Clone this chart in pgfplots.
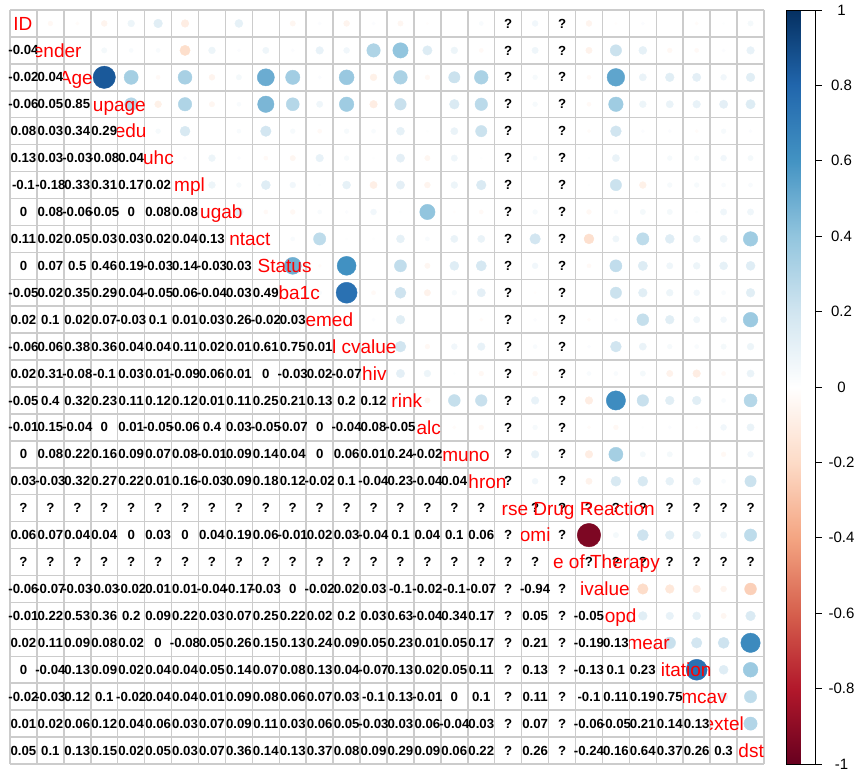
\documentclass[border=0pt]{standalone}
\usepackage{pgfplots}
\pgfplotsset{compat=1.18}
\usepackage{pgfplotstable}
\usepackage{fontspec}
\setmainfont{Liberation Sans}
\definecolor{labred}{RGB}{255,0,0}
\definecolor{gridgray}{RGB}{204,204,204}
\newcommand{\labfont}{\fontsize{19}{19}\selectfont}
\newcommand{\numfont}{\bfseries\fontsize{13.2}{13.2}\selectfont}
\newcommand{\cbfont}{\fontsize{15}{15}\selectfont}

% lower triangle: r = row, c = column, v = correlation
\pgfplotstableread[row sep=\\]{
r c v \\
2 1 -0.04 \\
3 1 -0.02 \\ 3 2 0.04 \\
4 1 -0.06 \\ 4 2 0.05 \\ 4 3 0.85 \\
5 1 0.08 \\ 5 2 0.03 \\ 5 3 0.34 \\ 5 4 0.29 \\
6 1 0.13 \\ 6 2 0.03 \\ 6 3 -0.03 \\ 6 4 -0.08 \\ 6 5 0.04 \\
7 1 -0.1 \\ 7 2 -0.18 \\ 7 3 0.33 \\ 7 4 0.31 \\ 7 5 0.17 \\ 7 6 0.02 \\
8 1 0 \\ 8 2 0.08 \\ 8 3 -0.06 \\ 8 4 -0.05 \\ 8 5 0 \\ 8 6 0.08 \\ 8 7 0.08 \\
9 1 0.11 \\ 9 2 0.02 \\ 9 3 0.05 \\ 9 4 0.03 \\ 9 5 0.03 \\ 9 6 0.02 \\ 9 7 0.04 \\ 9 8 0.13 \\
10 1 0 \\ 10 2 0.07 \\ 10 3 0.5 \\ 10 4 0.46 \\ 10 5 0.19 \\ 10 6 -0.03 \\ 10 7 0.14 \\ 10 8 -0.03 \\ 10 9 0.03 \\
11 1 -0.05 \\ 11 2 0.02 \\ 11 3 0.35 \\ 11 4 0.29 \\ 11 5 0.04 \\ 11 6 -0.05 \\ 11 7 0.06 \\ 11 8 -0.04 \\ 11 9 0.03 \\ 11 10 0.49 \\
12 1 0.02 \\ 12 2 0.1 \\ 12 3 0.02 \\ 12 4 0.07 \\ 12 5 -0.03 \\ 12 6 0.1 \\ 12 7 0.01 \\ 12 8 0.03 \\ 12 9 0.26 \\ 12 10 -0.02 \\ 12 11 0.03 \\
13 1 -0.06 \\ 13 2 0.06 \\ 13 3 0.38 \\ 13 4 0.36 \\ 13 5 0.04 \\ 13 6 0.04 \\ 13 7 0.11 \\ 13 8 0.02 \\ 13 9 0.01 \\ 13 10 0.61 \\ 13 11 0.75 \\ 13 12 0.01 \\
14 1 0.02 \\ 14 2 0.31 \\ 14 3 -0.08 \\ 14 4 -0.1 \\ 14 5 0.03 \\ 14 6 0.01 \\ 14 7 -0.09 \\ 14 8 0.06 \\ 14 9 0.01 \\ 14 10 0 \\ 14 11 -0.03 \\ 14 12 0.02 \\ 14 13 -0.07 \\
15 1 -0.05 \\ 15 2 0.4 \\ 15 3 0.32 \\ 15 4 0.23 \\ 15 5 0.11 \\ 15 6 0.12 \\ 15 7 0.12 \\ 15 8 0.01 \\ 15 9 0.11 \\ 15 10 0.25 \\ 15 11 0.21 \\ 15 12 0.13 \\ 15 13 0.2 \\ 15 14 0.12 \\
16 1 -0.01 \\ 16 2 0.15 \\ 16 3 -0.04 \\ 16 4 0 \\ 16 5 0.01 \\ 16 6 -0.05 \\ 16 7 -0.06 \\ 16 8 0.4 \\ 16 9 0.03 \\ 16 10 -0.05 \\ 16 11 -0.07 \\ 16 12 0 \\ 16 13 -0.04 \\ 16 14 0.08 \\ 16 15 -0.05 \\
17 1 0 \\ 17 2 0.08 \\ 17 3 0.22 \\ 17 4 0.16 \\ 17 5 0.09 \\ 17 6 0.07 \\ 17 7 0.08 \\ 17 8 -0.01 \\ 17 9 0.09 \\ 17 10 0.14 \\ 17 11 0.04 \\ 17 12 0 \\ 17 13 0.06 \\ 17 14 0.01 \\ 17 15 0.24 \\ 17 16 -0.02 \\
18 1 0.03 \\ 18 2 -0.03 \\ 18 3 0.32 \\ 18 4 0.27 \\ 18 5 0.22 \\ 18 6 0.01 \\ 18 7 0.16 \\ 18 8 -0.03 \\ 18 9 0.09 \\ 18 10 0.18 \\ 18 11 0.12 \\ 18 12 -0.02 \\ 18 13 0.1 \\ 18 14 -0.04 \\ 18 15 0.23 \\ 18 16 -0.04 \\ 18 17 0.04 \\
20 1 0.06 \\ 20 2 0.07 \\ 20 3 0.04 \\ 20 4 0.04 \\ 20 5 0 \\ 20 6 0.03 \\ 20 7 0 \\ 20 8 0.04 \\ 20 9 0.19 \\ 20 10 0.06 \\ 20 11 -0.01 \\ 20 12 0.02 \\ 20 13 0.03 \\ 20 14 -0.04 \\ 20 15 0.1 \\ 20 16 0.04 \\ 20 17 0.1 \\ 20 18 0.06 \\
22 1 -0.06 \\ 22 2 -0.07 \\ 22 3 -0.03 \\ 22 4 -0.03 \\ 22 5 -0.02 \\ 22 6 0.01 \\ 22 7 0.01 \\ 22 8 -0.04 \\ 22 9 -0.17 \\ 22 10 -0.03 \\ 22 11 0 \\ 22 12 -0.02 \\ 22 13 0.02 \\ 22 14 0.03 \\ 22 15 -0.1 \\ 22 16 -0.02 \\ 22 17 -0.1 \\ 22 18 -0.07 \\ 22 20 -0.94 \\
23 1 -0.01 \\ 23 2 0.22 \\ 23 3 0.53 \\ 23 4 0.36 \\ 23 5 0.2 \\ 23 6 0.09 \\ 23 7 0.22 \\ 23 8 0.03 \\ 23 9 0.07 \\ 23 10 0.25 \\ 23 11 0.22 \\ 23 12 0.02 \\ 23 13 0.2 \\ 23 14 0.03 \\ 23 15 0.63 \\ 23 16 -0.04 \\ 23 17 0.34 \\ 23 18 0.17 \\ 23 20 0.05 \\ 23 22 -0.05 \\
24 1 0.02 \\ 24 2 0.11 \\ 24 3 0.09 \\ 24 4 0.08 \\ 24 5 0.02 \\ 24 6 0 \\ 24 7 -0.08 \\ 24 8 0.05 \\ 24 9 0.26 \\ 24 10 0.15 \\ 24 11 0.13 \\ 24 12 0.24 \\ 24 13 0.09 \\ 24 14 0.05 \\ 24 15 0.23 \\ 24 16 0.01 \\ 24 17 0.05 \\ 24 18 0.17 \\ 24 20 0.21 \\ 24 22 -0.19 \\ 24 23 0.13 \\
25 1 0 \\ 25 2 -0.04 \\ 25 3 0.13 \\ 25 4 0.09 \\ 25 5 0.02 \\ 25 6 0.04 \\ 25 7 0.04 \\ 25 8 0.05 \\ 25 9 0.14 \\ 25 10 0.07 \\ 25 11 0.08 \\ 25 12 0.13 \\ 25 13 0.04 \\ 25 14 -0.07 \\ 25 15 0.13 \\ 25 16 0.02 \\ 25 17 0.05 \\ 25 18 0.11 \\ 25 20 0.13 \\ 25 22 -0.13 \\ 25 23 0.1 \\ 25 24 0.23 \\
26 1 -0.02 \\ 26 2 -0.03 \\ 26 3 0.12 \\ 26 4 0.1 \\ 26 5 -0.02 \\ 26 6 0.04 \\ 26 7 0.04 \\ 26 8 0.01 \\ 26 9 0.09 \\ 26 10 0.08 \\ 26 11 0.06 \\ 26 12 0.07 \\ 26 13 0.03 \\ 26 14 -0.1 \\ 26 15 0.13 \\ 26 16 -0.01 \\ 26 17 0 \\ 26 18 0.1 \\ 26 20 0.11 \\ 26 22 -0.1 \\ 26 23 0.11 \\ 26 24 0.19 \\ 26 25 0.75 \\
27 1 0.01 \\ 27 2 0.02 \\ 27 3 0.06 \\ 27 4 0.12 \\ 27 5 0.04 \\ 27 6 0.06 \\ 27 7 0.03 \\ 27 8 0.07 \\ 27 9 0.09 \\ 27 10 0.11 \\ 27 11 0.03 \\ 27 12 0.06 \\ 27 13 0.05 \\ 27 14 -0.03 \\ 27 15 0.03 \\ 27 16 0.06 \\ 27 17 -0.04 \\ 27 18 0.03 \\ 27 20 0.07 \\ 27 22 -0.06 \\ 27 23 -0.05 \\ 27 24 0.21 \\ 27 25 0.14 \\ 27 26 0.13 \\
28 1 0.05 \\ 28 2 0.1 \\ 28 3 0.13 \\ 28 4 0.15 \\ 28 5 0.02 \\ 28 6 0.05 \\ 28 7 0.03 \\ 28 8 0.07 \\ 28 9 0.36 \\ 28 10 0.14 \\ 28 11 0.13 \\ 28 12 0.37 \\ 28 13 0.08 \\ 28 14 0.09 \\ 28 15 0.29 \\ 28 16 0.09 \\ 28 17 0.06 \\ 28 18 0.22 \\ 28 20 0.26 \\ 28 22 -0.24 \\ 28 23 0.16 \\ 28 24 0.64 \\ 28 25 0.37 \\ 28 26 0.26 \\ 28 27 0.3 \\
}\lowertab

% cells with missing correlation (x = column, y = row)
\pgfplotstableread[row sep=\\]{
x y \\
1 19 \\ 2 19 \\ 3 19 \\ 4 19 \\ 5 19 \\ 6 19 \\ 7 19 \\ 8 19 \\ 9 19 \\ 10 19 \\ 11 19 \\ 12 19 \\ 13 19 \\ 14 19 \\ 15 19 \\ 16 19 \\ 17 19 \\ 18 19 \\
1 21 \\ 2 21 \\ 3 21 \\ 4 21 \\ 5 21 \\ 6 21 \\ 7 21 \\ 8 21 \\ 9 21 \\ 10 21 \\ 11 21 \\ 12 21 \\ 13 21 \\ 14 21 \\ 15 21 \\ 16 21 \\ 17 21 \\ 18 21 \\ 19 21 \\ 20 21 \\
19 20 \\ 19 22 \\ 19 23 \\ 19 24 \\ 19 25 \\ 19 26 \\ 19 27 \\ 19 28 \\
21 22 \\ 21 23 \\ 21 24 \\ 21 25 \\ 21 26 \\ 21 27 \\ 21 28 \\
19 1 \\ 19 2 \\ 19 3 \\ 19 4 \\ 19 5 \\ 19 6 \\ 19 7 \\ 19 8 \\ 19 9 \\ 19 10 \\ 19 11 \\ 19 12 \\ 19 13 \\ 19 14 \\ 19 15 \\ 19 16 \\ 19 17 \\ 19 18 \\
21 1 \\ 21 2 \\ 21 3 \\ 21 4 \\ 21 5 \\ 21 6 \\ 21 7 \\ 21 8 \\ 21 9 \\ 21 10 \\ 21 11 \\ 21 12 \\ 21 13 \\ 21 14 \\ 21 15 \\ 21 16 \\ 21 17 \\ 21 18 \\ 21 19 \\ 21 20 \\
20 19 \\ 22 19 \\ 23 19 \\ 24 19 \\ 25 19 \\ 26 19 \\ 27 19 \\ 28 19 \\
22 21 \\ 23 21 \\ 24 21 \\ 25 21 \\ 26 21 \\ 27 21 \\ 28 21 \\
}\natab

\begin{document}
\begin{tikzpicture}
\begin{axis}[
  name=main,
  scale only axis, width=754pt, height=754pt,
  xmin=0.5, xmax=28.5, ymin=0.5, ymax=28.5, y dir=reverse,
  clip=false,
  axis line style={draw=none},
  xtick={0.5,1.5,...,28.5}, ytick={0.5,1.5,...,28.5},
  xticklabels={}, yticklabels={},
  major tick length=0pt, tick style={draw=none},
  grid=major, major grid style={draw=gridgray, line width=1.5pt},
  colormap={rdbu}{rgb255=(103,0,31) rgb255=(178,24,43) rgb255=(214,96,77) rgb255=(244,165,130) rgb255=(253,219,199) rgb255=(255,255,255) rgb255=(209,229,240) rgb255=(146,197,222) rgb255=(67,147,195) rgb255=(33,102,172) rgb255=(5,48,97)},
  point meta min=-1, point meta max=1,
  colorbar,
  colorbar style={
    at={(parent axis.north east)}, anchor=north west, xshift=14pt,
    width=29pt,
    grid=none,
    xtick=\empty,
    ytick={-1,-0.8,-0.6,-0.4,-0.2,0,0.2,0.4,0.6,0.8,1},
    yticklabels={-1,-0.8,-0.6,-0.4,-0.2,0,0.2,0.4,0.6,0.8,1},
    ytick pos=right,
    tick align=outside,
    major tick length=6pt,
    axis line style={draw=black, line width=0.6pt},
    tick style={draw=black, line width=0.6pt},
    yticklabel style={font=\cbfont, anchor=center, xshift=20pt},
  },
]
\coordinate (O) at (axis cs:0.5,0.5);
% circles in the upper triangle (symmetric values)
\addplot[scatter, only marks, mark=*,
  scatter/use mapped color={draw=mapped color, fill=mapped color},
  point meta=\thisrow{v},
  visualization depends on={12.12*sqrt(abs(\thisrow{v})) \as \rad},
  scatter/@pre marker code/.append style={/tikz/mark size=\rad, /tikz/draw opacity=0},
] table[x=r, y=c] {\lowertab};
% numbers in the lower triangle
\addplot[draw=none, mark=none, nodes near coords, point meta=explicit symbolic,
  every node near coord/.append style={anchor=center, inner sep=0pt, font=\numfont, text=black},
] table[x=c, y=r, meta=v] {\lowertab};
% missing values
\addplot[draw=none, mark=none, nodes near coords={?},
  every node near coord/.append style={anchor=center, inner sep=0pt, font=\numfont, text=black},
] table[x=x, y=y] {\natab};
\end{axis}
\begin{scope}[shift={(O)}]
\foreach \i/\xr/\txt in {1/32.5/ID, 2/81.7/ender, 3/93.0/Age, 4/146.0/upage, 5/146.7/edu, 6/174.0/uhc, 7/205.0/mpl, 8/242.7/ugab, 9/270.7/ntact, 10/311.7/Status, 11/320.0/ba1c, 12/353.3/emed, 13/396.7/l cvalue, 14/386.7/hiv, 15/422.3/rink, 16/441.0/alc, 17/490.0/muno, 18/506.7/hron, 19/655.0/rse Drug Reaction, 20/550.7/omi, 21/660.0/e of Therapy, 22/630.0/ivalue, 23/636.7/opd, 24/670.0/mear, 25/711.7/itation, 26/727.0/mcav, 27/744.0/extel, 28/764.0/dst} {
  \begin{scope}
  \clip ({(\i-1)*26.93pt}, {-(\i-0.5)*26.93pt+30pt}) rectangle (900pt, {-(\i-0.5)*26.93pt-30pt});
  \node[anchor=base east, inner sep=0pt, text=labred, font=\labfont] at ({\xr pt-10pt}, {-(\i-0.5)*26.93pt-6.8pt}) {\txt};
  \end{scope}
}
\end{scope}
\pgfresetboundingbox
\path[use as bounding box] ([shift={(-10pt,10pt)}]O) rectangle ++(856pt,-771pt);
\end{tikzpicture}
\end{document}
